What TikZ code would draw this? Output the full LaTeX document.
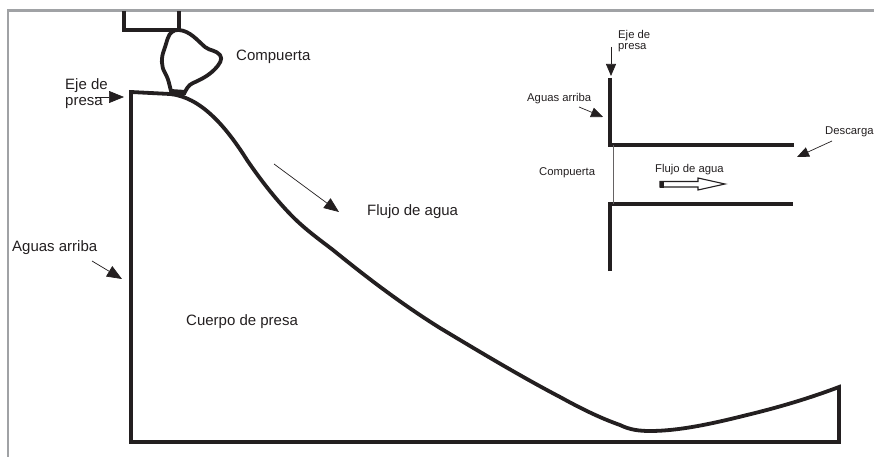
\documentclass[tikz,border=0pt]{standalone}
\usepackage{fontspec}
\setmainfont{Liberation Sans}
\usetikzlibrary{arrows.meta}
\definecolor{ink}{HTML}{231F20}
\definecolor{framegray}{HTML}{A0A2A5}
\tikzset{
  x=1pt,y=-1pt,
  wall/.style={draw=ink,line width=3.8pt,line join=miter},
  thinwall/.style={draw=ink,line width=3.2pt,line join=miter},
  bigptr/.style={draw=ink,line width=0.7pt,-{Triangle[length=15pt,width=12pt,fill=ink]}},
  smallptr/.style={draw=ink,line width=0.7pt,-{Triangle[length=12pt,width=10pt,fill=ink]}},
  bigtxt/.style={font=\fontsize{15}{17}\selectfont,text=ink,inner sep=0pt,align=left},
  smalltxt/.style={font=\fontsize{11.3}{13}\selectfont,text=ink,inner sep=0pt,align=left},
}
\begin{document}
\begin{tikzpicture}
\useasboundingbox (0,0) rectangle (874,457);
% frame
\draw[framegray,line width=2.4pt] (8,457) -- (8,10.5) -- (874,10.5);
% gate housing
\draw[wall] (124,11) -- (124,30) -- (179,30) -- (179,11);
% gate
\draw[wall,line join=round] (179,30)
  .. controls (190,31) and (197,40) .. (205,47)
  .. controls (210,51) and (216,50) .. (220,55)
  .. controls (223,59) and (220,64) .. (214,70)
  .. controls (208,76) and (200,80) .. (193,83)
  .. controls (188,85) and (186,90) .. (184,94)
  -- (171,91)
  .. controls (169,84) and (169,80) .. (165,73)
  .. controls (161,66) and (161,58) .. (164,50)
  .. controls (167,42) and (168,34) .. (172,32)
  .. controls (174,30) and (176,30) .. (179,30) -- cycle;
\fill[ink] (170,89) -- (185,90) -- (184,97) -- (169,95) -- cycle;
% dam body
\draw[wall] (131,92) -- (170,94)
  .. controls (200,97) and (225,125) .. (247,160)
  .. controls (262,182) and (278,202) .. (293,217)
  .. controls (306,230) and (320,240) .. (333,250)
  .. controls (365,276) and (400,303) .. (440,328)
  .. controls (480,352) and (520,376) .. (560,397)
  .. controls (580,408) and (600,418) .. (620,425)
  .. controls (630,430) and (640,431) .. (650,431)
  .. controls (680,431) and (715,423) .. (747,415)
  .. controls (780,407) and (810,398) .. (839,387)
  -- (839,442) -- (131,442) -- cycle;
% inset
\draw[thinwall] (610,78) -- (610,145) -- (794,145);
\draw[thinwall] (610,271) -- (610,204) -- (793,204);
\draw[draw=ink!70,line width=0.8pt] (613,145) -- (613,204);
% hollow flow arrow
\draw[draw=ink,line width=1.1pt,fill=white,line join=miter] (660,181.5) -- (698,181.5) -- (698,178) -- (725,184) -- (698,190) -- (698,187) -- (660,187) -- cycle;
\fill[ink] (660,181) rectangle (664,187.5);
% texts
\node[bigtxt,anchor=west] (compuerta) at (236,57) {Compuerta};
\node[bigtxt,anchor=north west] (eje) at (65,78) {Eje de\\[-1pt]presa};
\node[bigtxt,anchor=west] (flujo) at (367,212) {Flujo de agua};
\node[bigtxt,anchor=west] (aguas) at (12,248) {Aguas arriba};
\node[bigtxt,anchor=west] (cuerpo) at (186,322) {Cuerpo de presa};
\node[smalltxt,anchor=north west] (eje2) at (618,30) {Eje de\\[-1.5pt]presa};
\node[smalltxt,anchor=west] (aguas2) at (527,99) {Aguas arriba};
\node[smalltxt,anchor=west] (comp2) at (539,173) {Compuerta};
\node[smalltxt,anchor=west] (flujo2) at (655,170) {Flujo de agua};
\node[smalltxt,anchor=west] (desc) at (825,132) {Descarga};
% arrows
\coordinate (a1s) at (95,97);   \coordinate (a1e) at (124,97);
\coordinate (a2s) at (92,261);  \coordinate (a2e) at (122,279);
\coordinate (a3s) at (274,164); \coordinate (a3e) at (339,212);
\coordinate (a4s) at (611,47);  \coordinate (a4e) at (611,76);
\coordinate (a5s) at (579,107); \coordinate (a5e) at (603,117);
\coordinate (a6s) at (832,141); \coordinate (a6e) at (797,157);
\draw[bigptr] (a1s) -- (a1e);
\draw[bigptr] (a2s) -- (a2e);
\draw[bigptr] (a3s) -- (a3e);
\draw[smallptr] (a4s) -- (a4e);
\draw[smallptr] (a5s) -- (a5e);
\draw[smallptr] (a6s) -- (a6e);
\end{tikzpicture}
\end{document}
